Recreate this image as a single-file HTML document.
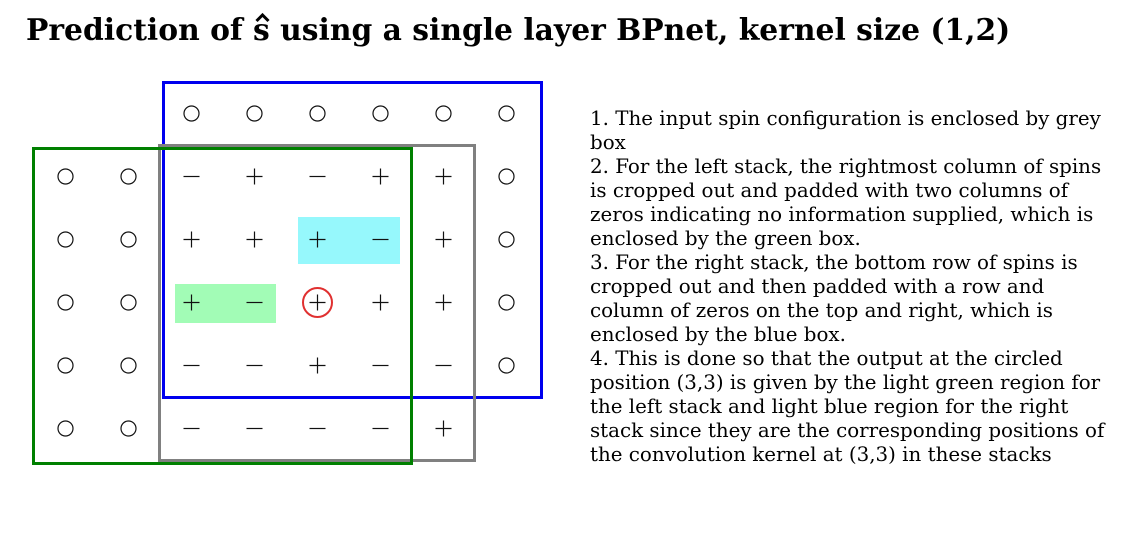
<!DOCTYPE html>
<html><head><meta charset="utf-8"><style>
html,body{margin:0;padding:0;background:#fff;width:1126px;height:544px;overflow:hidden;}
.t{position:absolute;left:26px;top:13px;font:bold 29.75px "DejaVu Serif","Liberation Serif",serif;white-space:nowrap;}
.d{position:absolute;left:590px;top:107px;font:19.85px/24px "DejaVu Serif","Liberation Serif",serif;width:530px;white-space:nowrap;}
</style></head><body>
<svg width="1126" height="544" style="position:absolute;left:0;top:0">
<rect x="298" y="217" width="102" height="47" fill="#96f8fc"/>
<rect x="175" y="284" width="101" height="39" fill="#a2fcb6"/>
<g id="g" stroke="#111" stroke-width="1.2" fill="none"></g>
<circle cx="317.5" cy="302.5" r="14.5" stroke="#e03030" stroke-width="2" fill="none"/>
<rect x="163.5" y="82.5" width="378" height="315" stroke="#0000ee" stroke-width="3" fill="none"/>
<rect x="159.5" y="145.5" width="315" height="315" stroke="#808080" stroke-width="3" fill="none"/>
<rect x="33.5" y="148.5" width="378" height="315" stroke="#008000" stroke-width="3" fill="none"/>
<path d="M256.5 21 L262.5 15 L268.5 21" stroke="#000" stroke-width="3" fill="none"/>
</svg>
<div class="t">Prediction of s using a single layer BPnet, kernel size (1,2)</div>
<div class="d">1. The input spin configuration is enclosed by grey<br>box<br>2. For the left stack, the rightmost column of spins<br>is cropped out and padded with two columns of<br>zeros indicating no information supplied, which is<br>enclosed by the green box.<br>3. For the right stack, the bottom row of spins is<br>cropped out and then padded with a row and<br>column of zeros on the top and right, which is<br>enclosed by the blue box.<br>4. This is done so that the output at the circled<br>position (3,3) is given by the light green region for<br>the left stack and light blue region for the right<br>stack since they are the corresponding positions of<br>the convolution kernel at (3,3) in these stacks</div>
<script>
var G=["  OOOOOO","OO-+-++O","OO+++-+O","OO+-+++O","OO--+--O","OO----+ "];
var s="";
for(var r=0;r<6;r++)for(var c=0;c<8;c++){var ch=G[r][c],x=65+63*c+0.5,y=113+63*r+0.5;
if(ch=="O")s+='<circle cx="'+x+'" cy="'+y+'" r="7.5"/>';
else if(ch=="+")s+='<path d="M'+(x-8)+' '+y+'h16M'+x+' '+(y-8)+'v16"/>';
else if(ch=="-")s+='<path d="M'+(x-8)+' '+y+'h16"/>';}
document.getElementById("g").innerHTML=s;
</script>
</body></html>
